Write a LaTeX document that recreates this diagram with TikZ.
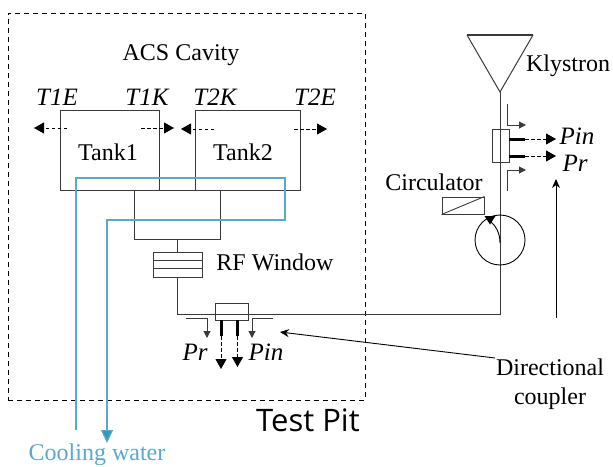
\documentclass[tikz,border=0pt]{standalone}
\usepackage{fontspec}
\setmainfont{Liberation Serif}
\setsansfont{Open Sans}
\usetikzlibrary{arrows.meta}
\definecolor{water}{HTML}{5AA9C8}
\definecolor{watertip}{HTML}{2E9BBC}
\definecolor{lineg}{HTML}{3A3A3A}
\tikzset{
  box/.style={draw=lineg, line width=1pt, inner sep=0pt},
  label/.style={inner sep=0pt, font=\fontsize{24}{26}\selectfont},
  signal/.style={label, font=\fontsize{25}{26}\selectfont\itshape},
  probe/.style={dashed, dash pattern=on 3.5pt off 2.5pt, line width=.9pt, -{Triangle[length=10pt,width=11pt]}},
  stub/.style={line width=3pt},
  tap/.style={draw=lineg, line width=1pt, -{Triangle[length=7pt,width=7pt]}},
  pipe/.style={draw=water, line width=1.2pt}
}
\begin{document}
\begin{tikzpicture}[x=1pt, y=-1pt]
  \useasboundingbox (0,0) rectangle (613,466);
  % test pit
  \node[draw, dashed, dash pattern=on 5pt off 4pt, line width=1pt, inner sep=0pt, minimum width=357pt, minimum height=387pt] (pit) at (186.5,206.5) {};
  \node[inner sep=0pt, font=\sffamily\fontsize{31}{34}\selectfont] (pitlabel) at (308,420) {Test Pit};
  \node[label] (cavity) at (181,55) {ACS Cavity};
  % tanks
  \node[box, minimum width=99pt, minimum height=80pt] (tank1) at (109.5,150) {};
  \node[box, minimum width=105pt, minimum height=80pt] (tank2) at (248,150) {};
  \node[label] (tank1label) at (108,152) {Tank1};
  \node[label] (tank2label) at (243,152) {Tank2};
  \node[box, minimum width=86pt, minimum height=49pt] (joint) at (177.5,214.5) {};
  \node[signal] (t1e) at (57,97) {T1E};
  \node[signal] (t1k) at (147,97) {T1K};
  \node[signal] (t2k) at (215,97) {T2K};
  \node[signal] (t2e) at (315,97) {T2E};
  \coordinate (t1ea) at (67,128);
  \coordinate (t1eb) at (34,128);
  \coordinate (t1ka) at (141,128);
  \coordinate (t1kb) at (174,128);
  \coordinate (t2ka) at (214,129);
  \coordinate (t2kb) at (181,129);
  \coordinate (t2ea) at (294,129);
  \coordinate (t2eb) at (327,129);
  \draw[probe] (t1ea) -- (t1eb);
  \draw[probe] (t1ka) -- (t1kb);
  \draw[probe] (t2ka) -- (t2kb);
  \draw[probe] (t2ea) -- (t2eb);
  % rf window
  \node[box, minimum width=49pt, minimum height=25pt] (window) at (177.5,264.5) {};
  \coordinate (wa) at (153,260.5);
  \coordinate (wb) at (202,260.5);
  \coordinate (wc) at (153,268.5);
  \coordinate (wd) at (202,268.5);
  \draw[lineg, line width=1pt] (wa) -- (wb);
  \draw[lineg, line width=1pt] (wc) -- (wd);
  \node[label] (windowlabel) at (275,262) {RF Window};
  \draw[lineg, line width=1pt] (joint.south) -- (window.north);
  % klystron
  \node[inner sep=0pt] (klyleft) at (467,35) {};
  \node[inner sep=0pt] (klyright) at (533,35) {};
  \node[inner sep=0pt] (klytip) at (500,92) {};
  \draw[lineg, line width=1pt] (klyleft.center) -- (klytip.center) -- (klyright.center);
  \draw[lineg, line width=1.8pt] (klyleft.center) -- (klyright.center);
  \node[label] (klystron) at (568,66) {Klystron};
  % waveguide
  \coordinate (corner) at (500,314);
  \coordinate (bend) at (177,314);
  \draw[lineg, line width=1pt] (window.south-|bend) -- (bend) -- (corner) -- (klytip.center);
  % circulator
  \node[draw=black, circle, line width=.9pt, inner sep=0pt, minimum size=50pt] (circ) at (500,240) {};
  \node[box, minimum width=42pt, minimum height=17pt] (load) at (463,205.5) {};
  \draw[lineg, line width=.9pt] (load.south west) -- (load.north east);
  \node[label] (circlabel) at (434,182) {Circulator};
  \coordinate (arca) at (500,243);
  \coordinate (arcb) at (490,221);
  \draw[line width=.9pt] (arca) .. controls (500,233) and (496,226) .. (arcb);
  \coordinate (tipa) at (484.5,216);
  \coordinate (tipb) at (495.5,216);
  \coordinate (tipc) at (490,224.5);
  \fill (tipa) -- (tipb) -- (tipc) -- cycle;
  % upper coupler
  \node[box, fill=white, minimum width=17pt, minimum height=33pt] (upper) at (500.5,145.5) {};
  \draw[lineg, line width=1pt] (500.5,129) -- (500.5,162);
  \coordinate (upa) at (509,139);
  \coordinate (upb) at (525,139);
  \coordinate (upc) at (556,139);
  \coordinate (ura) at (509,156);
  \coordinate (urb) at (525,156);
  \coordinate (urc) at (556,156);
  \draw[stub] (upa) -- (upb);
  \draw[stub] (ura) -- (urb);
  \draw[probe] (upb) -- (upc);
  \draw[probe] (urb) -- (urc);
  \coordinate (ta) at (507,104);
  \coordinate (tb) at (507,125);
  \coordinate (tc) at (526,125);
  \coordinate (td) at (507,191);
  \coordinate (te) at (507,170);
  \coordinate (tf) at (526,170);
  \draw[tap] (ta) -- (tb) -- (tc);
  \draw[tap] (td) -- (te) -- (tf);
  \node[signal] (uppin) at (577,136) {Pin};
  \node[signal] (uppr) at (575,163) {Pr};
  % lower coupler
  \node[box, minimum width=33pt, minimum height=17pt] (lower) at (231.5,311.5) {};
  \coordinate (lpa) at (221,320);
  \coordinate (lpb) at (221,336);
  \coordinate (lpc) at (221,369);
  \coordinate (lra) at (237.5,320);
  \coordinate (lrb) at (237.5,336);
  \coordinate (lrc) at (237.5,367);
  \draw[stub] (lpa) -- (lpb);
  \draw[stub] (lra) -- (lrb);
  \draw[probe] (lpb) -- (lpc);
  \draw[probe] (lrb) -- (lrc);
  \coordinate (la) at (186,318);
  \coordinate (lb) at (207,318);
  \coordinate (lc) at (207,338);
  \coordinate (ld) at (273,318);
  \coordinate (le) at (252,318);
  \coordinate (lf) at (252,338);
  \draw[tap] (la) -- (lb) -- (lc);
  \draw[tap] (ld) -- (le) -- (lf);
  \node[signal] (lowpr) at (195,352) {Pr};
  \node[signal] (lowpin) at (266,352) {Pin};
  % directional coupler
  \node[label, align=center, font=\fontsize{24}{29}\selectfont] (dirc) at (550,384) {Directional\\coupler};
  \coordinate (dca) at (495,358);
  \coordinate (dcb) at (280,332);
  \coordinate (dcc) at (556,318);
  \coordinate (dcd) at (556,179);
  \draw[line width=.9pt, -{Stealth[length=9pt,width=8pt]}] (dca) -- (dcb);
  \draw[line width=.9pt, -{Stealth[length=9pt,width=8pt]}] (dcc) -- (dcd);
  % cooling water
  \coordinate (wp1) at (76,430);
  \coordinate (wp2) at (76,178);
  \coordinate (wp3) at (285,178);
  \coordinate (wp4) at (285,220);
  \coordinate (wp5) at (107,220);
  \coordinate (wp6) at (107,443);
  \draw[pipe, -{Triangle[length=13pt,width=12pt,fill=watertip]}] (wp1) -- (wp2) -- (wp3) -- (wp4) -- (wp5) -- (wp6);
  \node[label, text=water] (water) at (97,455) {Cooling water};
\end{tikzpicture}
\end{document}
